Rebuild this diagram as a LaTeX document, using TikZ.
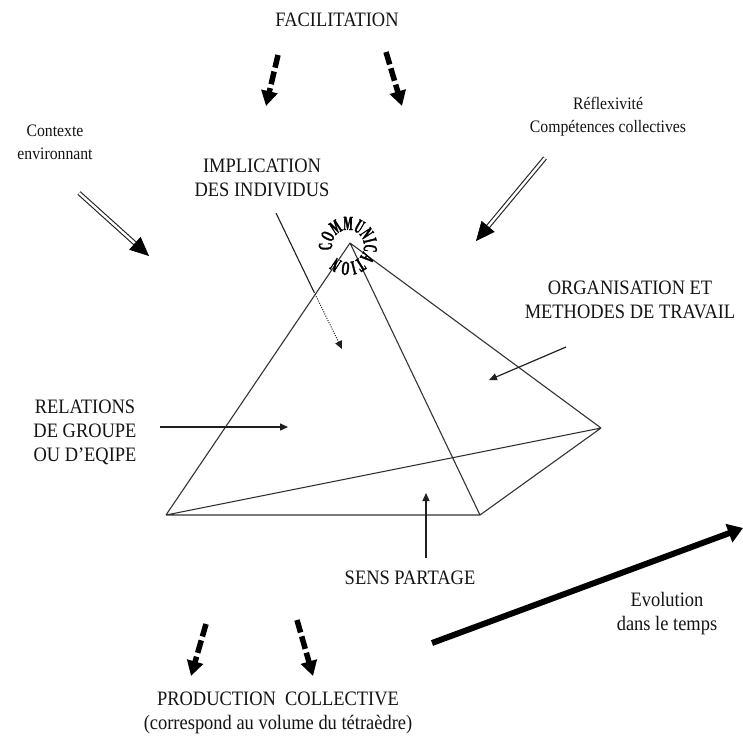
\documentclass[tikz,border=0pt]{standalone}
\usepackage{fontspec}
\setmainfont{Liberation Serif}[FakeStretch=0.9]
\newfontfamily\commfamily{Liberation Serif Bold}[FakeStretch=0.5, Scale=2.0, FakeBold=1.5]
\usetikzlibrary{arrows.meta,calc,decorations.text}

\begin{document}
\begin{tikzpicture}[x=1pt,y=-1pt,
  lbl/.style={font=\fontsize{20.5}{24}\selectfont, align=center, inner sep=0pt, text=black!92},
  lblsmall/.style={font=\fontsize{17.5}{23}\selectfont, align=center, inner sep=0pt, text=black!92},
  edge/.style={draw=black!80, line width=1.1pt, line join=round},
  pointer/.style={draw=black!88, line width=1.2pt, -{Triangle[length=8pt,width=7pt]}},
  dasharrow/.style={draw=black, line width=5.5pt, dash pattern=on 13pt off 4pt, -{Triangle[length=15pt,width=16pt]}},
  dblline/.style={draw=black!88, double=white, double distance=2.4pt, line width=1.1pt},
  dbltip/.style={draw=black, line width=0.6pt, -{Triangle[length=19pt,width=17pt]}},
  bigarrow/.style={draw=black, line width=6pt, -{Triangle[length=15pt,width=19pt]}},
]
\useasboundingbox[fill=white] (0,0) rectangle (743,739);

% labels
\node[lbl]      (fac)  at (337,20)  {FACILITATION};
\node[lblsmall] (refl) at (608,117) {Réflexivité\\Compétences collectives};
\node[lblsmall] (ctx)  at (55,142)  {Contexte\\environnant};
\node[lbl]      (impl) at (262,178) {IMPLICATION\\DES INDIVIDUS};
\node[lbl]      (orga) at (630,300) {ORGANISATION ET\\METHODES DE TRAVAIL};
\node[lbl]      (rel)  at (85,432)  {RELATIONS\\DE GROUPE\\OU D’EQIPE};
\node[lbl]      (sens) at (410,578) {SENS PARTAGE};
\node[lbl]      (evo)  at (667,614) {Evolution\\dans le temps};
\node[lbl]      (prod) at (278,713) {PRODUCTION\ \ COLLECTIVE\\(correspond au volume du tétraèdre)};

% tetrahedron
\coordinate (A) at (350,243);
\coordinate (B) at (166,515);
\coordinate (C) at (480,515);
\coordinate (D) at (601,428);
\draw[edge] (A) -- (B) (A) -- (C) (A) -- (D) (B) -- (C) (B) -- (D) (C) -- (D);

% circular label around the apex
\coordinate (comm) at (348,246);
\begin{scope}[y=1pt]
  \path[decorate, decoration={text along path, text={|\commfamily|COMMUNICATION},
        text align=left}]
    (comm) ++(194:16pt) arc[start angle=194, end angle=-166, radius=16pt];
\end{scope}

% facilitation arrows
\coordinate (f1s) at (278,55);  \coordinate (f1e) at (266,106);
\coordinate (f2s) at (386,52);  \coordinate (f2e) at (402,106);
\draw[dasharrow] (f1s) -- (f1e);
\draw[dasharrow] (f2s) -- (f2e);

% production arrows
\coordinate (p1s) at (206,624); \coordinate (p1e) at (191,676);
\coordinate (p2s) at (297,620); \coordinate (p2e) at (313,676);
\draw[dasharrow] (p1s) -- (p1e);
\draw[dasharrow] (p2s) -- (p2e);

% double arrows from the surroundings
\coordinate (c1) at (79,193);  \coordinate (c2) at (149,256);
\coordinate (r1) at (545,158); \coordinate (r2) at (476,241);
\draw[dblline] (c1) -- ($(c2)!15pt!(c1)$);
\draw[dbltip] ($(c2)!19pt!(c1)$) -- (c2);
\draw[dblline] (r1) -- ($(r2)!15pt!(r1)$);
\draw[dbltip] ($(r2)!19pt!(r1)$) -- (r2);

% involvement arrow, solid then dotted
\coordinate (i1) at (276,213);
\coordinate (i2) at (314,292);
\coordinate (i3) at (342,349);
\draw[draw=black!88, line width=1.1pt] (i1) -- (i2);
\draw[pointer, line width=1pt, dash pattern=on 1pt off 1.4pt] (i2) -- (i3);

% face pointers
\coordinate (rl1) at (160,427); \coordinate (rl2) at (288,427);
\coordinate (o1) at (566,347);  \coordinate (o2) at (489,380);
\coordinate (s1) at (426,558);  \coordinate (s2) at (426,493);
\draw[pointer] (rl1) -- (rl2);
\draw[pointer] (o1) -- (o2);
\draw[pointer] (s1) -- (s2);

% time arrow
\coordinate (e1) at (432,643);
\coordinate (e2) at (743,528);
\draw[bigarrow] (e1) -- (e2);
\end{tikzpicture}
\end{document}
